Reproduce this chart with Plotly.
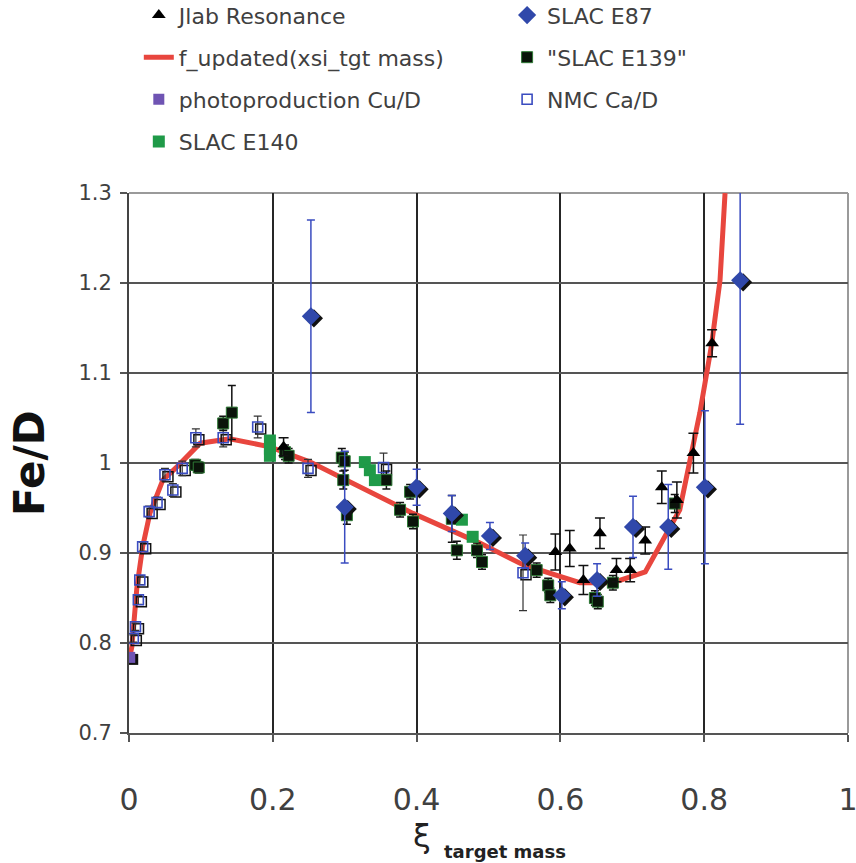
import plotly.graph_objects as go

# ---------------- data ----------------
curve_x = [0.0, 0.004, 0.011, 0.019, 0.029, 0.047, 0.067, 0.099, 0.14, 0.196, 0.252, 0.3,
           0.395, 0.488, 0.548, 0.627, 0.673, 0.718, 0.766, 0.794, 0.81, 0.822, 0.829]
curve_y = [0.78, 0.796, 0.862, 0.907, 0.944, 0.981, 0.996, 1.022, 1.027, 1.018, 1.001, 0.982,
           0.944, 0.911, 0.887, 0.867, 0.867, 0.879, 0.948, 1.056, 1.13, 1.203, 1.3]

jlab_x = [0.215, 0.593, 0.613, 0.632, 0.655, 0.678, 0.697, 0.718, 0.741, 0.762, 0.785, 0.811]
jlab_y = [1.018, 0.901, 0.905, 0.870, 0.922, 0.881, 0.881, 0.914, 0.973, 0.959, 1.011, 1.133]
jlab_e = [0.010, 0.020, 0.020, 0.016, 0.017, 0.013, 0.013, 0.015, 0.018, 0.020, 0.022, 0.015]

e87_x = [0.253, 0.300, 0.400, 0.449, 0.502, 0.551, 0.602, 0.651, 0.701, 0.750, 0.801, 0.850]
e87_y = [1.163, 0.951, 0.973, 0.944, 0.919, 0.897, 0.853, 0.870, 0.929, 0.929, 0.973, 1.203]
e87_e = [0.107, 0.062, 0.020, 0.020, 0.015, 0.014, 0.015, 0.018, 0.034, 0.047, 0.085, 0.160]

e139_x = [0.092, 0.097, 0.131, 0.143, 0.217, 0.222, 0.296, 0.300, 0.298, 0.303, 0.358, 0.377,
          0.391, 0.395, 0.449, 0.456, 0.484, 0.491, 0.567, 0.583, 0.586, 0.648, 0.652, 0.673, 0.759]
e139_y = [0.998, 0.995, 1.044, 1.056, 1.012, 1.008, 1.006, 1.002, 0.981, 0.942, 0.981, 0.948,
          0.968, 0.935, 0.938, 0.903, 0.903, 0.890, 0.881, 0.864, 0.853, 0.850, 0.846, 0.867, 0.955]
e139_e = [0.006, 0.006, 0.008, 0.030, 0.008, 0.008, 0.010, 0.010, 0.010, 0.010, 0.010, 0.008,
          0.008, 0.008, 0.026, 0.010, 0.008, 0.008, 0.008, 0.008, 0.008, 0.008, 0.008, 0.008, 0.010]

photo_x = [0.001]
photo_y = [0.784]

nmc_x = [0.006, 0.009, 0.013, 0.015, 0.019, 0.028, 0.039, 0.050, 0.061, 0.074, 0.093, 0.131,
         0.179, 0.249, 0.354, 0.548]
nmc_y = [0.805, 0.818, 0.848, 0.870, 0.907, 0.946, 0.956, 0.987, 0.970, 0.994, 1.028, 1.028,
         1.040, 0.994, 0.995, 0.878]
nmc_e = [0.004, 0.004, 0.005, 0.005, 0.005, 0.006, 0.006, 0.007, 0.007, 0.008, 0.010, 0.010,
         0.012, 0.010, 0.016, 0.042]

e140_x = [0.196, 0.196, 0.196, 0.328, 0.335, 0.342, 0.463, 0.478]
e140_y = [1.025, 1.016, 1.008, 1.001, 0.992, 0.981, 0.937, 0.918]

x_ticks = [0, 0.2, 0.4, 0.6, 0.8, 1]
x_tick_labels = ["0", "0.2", "0.4", "0.6", "0.8", "1"]
y_ticks = [0.7, 0.8, 0.9, 1.0, 1.1, 1.2, 1.3]
y_tick_labels = ["0.7", "0.8", "0.9", "1", "1.1", "1.2", "1.3"]

# ---------------- figure ----------------
W, H = 856, 863
L, R, T, B = 129, 8, 193, 130
PW, PH = W - L - R, H - T - B
FONT = "DejaVu Sans"
TXT = "#404040"

# shadow offset in data units (~3 px)
SDX = 3.0 / PW
SDY = 2.0 / PH * 0.6

fig = go.Figure()


def shadow(xs, ys, symbol, size, open_=False):
    fig.add_trace(go.Scatter(
        x=[v + SDX for v in xs], y=[v - SDY for v in ys], mode="markers",
        marker=dict(symbol=symbol, size=size, color="#111111",
                    line=dict(width=1.5 if open_ else 0, color="#111111")),
        showlegend=False, hoverinfo="skip"))


# curve
fig.add_trace(go.Scatter(
    x=curve_x, y=curve_y, mode="lines", name="f_updated(xsi_tgt mass)",
    line=dict(color="#e8463e", width=5), legend="legend", legendrank=2))

# NMC
shadow(nmc_x, nmc_y, "square-open", 10, open_=True)
fig.add_trace(go.Scatter(
    x=nmc_x, y=nmc_y, mode="markers", name="NMC Ca/D",
    marker=dict(symbol="square-open", size=10, color="#3a4cc0", line=dict(width=1.6, color="#3a4cc0")),
    error_y=dict(type="data", array=nmc_e, color="#333333", thickness=1.2, width=4),
    legend="legend2", legendrank=3))

# E139
fig.add_trace(go.Scatter(
    x=e139_x, y=e139_y, mode="markers", name="\"SLAC E139\"",
    marker=dict(symbol="square", size=11, color="#0a140a", line=dict(width=1, color="#2f7a36")),
    error_y=dict(type="data", array=e139_e, color="#111111", thickness=1.5, width=4),
    legend="legend2", legendrank=2))

# E140
fig.add_trace(go.Scatter(
    x=e140_x, y=e140_y, mode="markers", name="SLAC E140",
    marker=dict(symbol="square", size=12, color="#1f9a48"),
    legend="legend", legendrank=4))

# photoproduction
shadow(photo_x, photo_y, "square", 11)
fig.add_trace(go.Scatter(
    x=photo_x, y=photo_y, mode="markers", name="photoproduction Cu/D",
    marker=dict(symbol="square", size=11, color="#6f54b3"),
    legend="legend", legendrank=3))

# Jlab
fig.add_trace(go.Scatter(
    x=jlab_x, y=jlab_y, mode="markers", name="Jlab Resonance",
    marker=dict(symbol="triangle-up", size=12, color="#000000"),
    error_y=dict(type="data", array=jlab_e, color="#111111", thickness=1.5, width=5),
    legend="legend", legendrank=1))

# E87
shadow(e87_x, e87_y, "diamond", 14)
fig.add_trace(go.Scatter(
    x=e87_x, y=e87_y, mode="markers", name="SLAC E87",
    marker=dict(symbol="diamond", size=14, color="#3048aa"),
    error_y=dict(type="data", array=e87_e, color="#3a4cc0", thickness=1.5, width=4),
    legend="legend2", legendrank=1))

LEG_Y = 1.368
LEG_GAP = 10.5
fig.update_layout(
    width=W, height=H,
    margin=dict(l=L, r=R, t=T, b=B, autoexpand=False),
    paper_bgcolor="white", plot_bgcolor="white",
    font=dict(family=FONT, color=TXT),
    legend=dict(x=-0.01 + 17.0 / PW, y=LEG_Y, xanchor="left", yanchor="top",
                orientation="v", font=dict(size=22, color=TXT, family=FONT),
                tracegroupgap=LEG_GAP, bgcolor="rgba(0,0,0,0)", traceorder="grouped"),
    legend2=dict(x=0.505 + 15.0 / PW, y=LEG_Y, xanchor="left", yanchor="top",
                 orientation="v", font=dict(size=22, color=TXT, family=FONT),
                 tracegroupgap=LEG_GAP, bgcolor="rgba(0,0,0,0)", traceorder="grouped"),
    xaxis=dict(range=[0, 1], tickvals=x_ticks, ticktext=x_tick_labels,
               showgrid=True, gridcolor="#262626", gridwidth=1.5,
               showline=True, linecolor="#555555", linewidth=2,
               ticks="outside", ticklen=7, tickcolor="#555555", tickwidth=1.5,
               tickfont=dict(size=30, color=TXT, family=FONT),
               ticklabelstandoff=32, ticklabeloverflow="allow",
               zeroline=False, fixedrange=True),
    yaxis=dict(range=[0.7, 1.3], tickvals=y_ticks, ticktext=y_tick_labels,
               showgrid=True, gridcolor="#555555", gridwidth=2,
               showline=True, linecolor="#444444", linewidth=2,
               ticks="outside", ticklen=7, tickcolor="#555555", tickwidth=1.5,
               tickfont=dict(size=21, color=TXT, family=FONT),
               ticklabelstandoff=4, ticklabeloverflow="allow",
               zeroline=False, fixedrange=True),
    showlegend=True,
)

# every trace its own legend group so tracegroupgap spaces the rows
for i, tr in enumerate(fig.data):
    tr.legendgroup = f"g{i}"

# lighter top / right border
fig.add_shape(type="line", xref="paper", yref="paper", x0=0, x1=1, y0=1, y1=1,
              line=dict(color="#9a9a9a", width=2), layer="between")
fig.add_shape(type="line", xref="paper", yref="paper", x0=1, x1=1, y0=0, y1=1,
              line=dict(color="#9a9a9a", width=2), layer="between")


def px_x(p):
    return (p - L) / PW


def px_y(p):
    return (H - B - p) / PH


# axis titles
fig.add_annotation(text="<b>Fe/D</b>", xref="paper", yref="paper", x=px_x(29), y=px_y(463),
                   xanchor="center", yanchor="middle",
                   textangle=-90, showarrow=False, font=dict(size=42, color="#111111", family=FONT))
fig.add_annotation(text="ξ", xref="paper", yref="paper", x=px_x(422), y=px_y(836),
                   xanchor="center", yanchor="middle", showarrow=False,
                   font=dict(size=32, color="#222222", family=FONT))
fig.add_annotation(text="<b>target mass</b>", xref="paper", yref="paper", x=px_x(505), y=px_y(851),
                   xanchor="center", yanchor="middle", showarrow=False,
                   font=dict(size=18, color="#222222", family=FONT))

fig.write_html("out.html")
